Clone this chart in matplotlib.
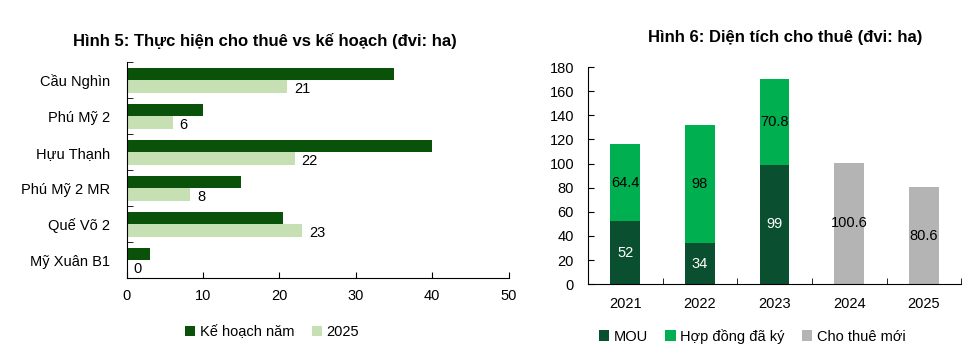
import matplotlib
matplotlib.use("Agg")
import matplotlib.pyplot as plt
import numpy as np

plt.rcParams['font.family'] = ['Liberation Sans', 'DejaVu Sans']

# Left chart data
parks = ["Cầu Nghìn", "Phú Mỹ 2", "Hựu Thạnh", "Phú Mỹ 2 MR", "Quế Võ 2", "Mỹ Xuân B1"]
plan = [35, 10, 40, 15, 20.5, 3]
actual_2025 = [21, 6, 22, 8.3, 23, 0]
actual_labels = ["21", "6", "22", "8", "23", "0"]

# Right chart data
years = ["2021", "2022", "2023", "2024", "2025"]
mou = [52, 34, 99, 0, 0]
signed = [64.4, 98, 70.8, 0, 0]
new_lease = [0, 0, 0, 100.6, 80.6]

FS = 10.5

fig = plt.figure(figsize=(9.67, 3.53), dpi=100)

# ---------- Left chart ----------
axL = fig.add_axes([0.131, 0.212, 0.395, 0.612])
n = len(parks)
y = np.arange(n)
h = 0.35
c_plan = "#0A520A"
c_act = "#C6E0B4"
axL.barh(y - h/2, plan, height=h, color=c_plan, label="Kế hoạch năm")
axL.barh(y + h/2, actual_2025, height=h, color=c_act, label="2025")
for yi, v, lab in zip(y, actual_2025, actual_labels):
    axL.text(v + 0.9, yi + h/2 + 0.08, lab, ha="left", va="center", fontsize=FS)
axL.set_ylim(n - 0.5, -0.5)
axL.set_xlim(0, 50)
axL.set_xticks(np.arange(0, 51, 10))
axL.set_yticks(y)
axL.set_yticklabels(parks, fontsize=FS)
axL.set_yticks(np.arange(-0.5, n, 1), minor=True)
axL.tick_params(axis="y", which="major", length=0, pad=12)
axL.tick_params(axis="y", which="minor", length=4, direction="in")
axL.tick_params(axis="x", length=4, direction="in", labelsize=FS, pad=8)
for s in ["top", "right"]:
    axL.spines[s].set_visible(False)
fig.text(0.274, 0.885, "Hình 5: Thực hiện cho thuê vs kế hoạch (đvi: ha)", fontsize=12,
         fontweight="bold", ha="center", va="center")
axL.legend(loc="upper center", bbox_to_anchor=(0.38, -0.155), ncol=2, frameon=False,
           fontsize=FS, handlelength=0.7, handleheight=0.7, handletextpad=0.3,
           columnspacing=1.2)

# ---------- Right chart ----------
axR = fig.add_axes([0.608, 0.195, 0.386, 0.615])
x = np.arange(len(years))
w = 0.4
c_mou = "#0B4F31"
c_signed = "#00B050"
c_new = "#B4B4B4"
axR.bar(x, mou, width=w, color=c_mou, label="MOU")
axR.bar(x, signed, width=w, bottom=mou, color=c_signed, label="Hợp đồng đã ký")
axR.bar(x, new_lease, width=w, color=c_new, label="Cho thuê mới")
for xi in x:
    if mou[xi] > 0:
        axR.text(xi, mou[xi] / 2, f"{mou[xi]:g}", ha="center", va="center",
                 color="white", fontsize=FS)
    if signed[xi] > 0:
        axR.text(xi, mou[xi] + signed[xi] / 2, f"{signed[xi]:g}", ha="center",
                 va="center", color="black", fontsize=FS)
    if new_lease[xi] > 0:
        axR.text(xi, new_lease[xi] / 2, f"{new_lease[xi]:g}", ha="center",
                 va="center", color="black", fontsize=FS)
axR.set_ylim(0, 180)
axR.set_yticks(np.arange(0, 181, 20))
axR.set_xlim(-0.5, len(years) - 0.5)
axR.set_xticks(x)
axR.set_xticklabels(years)
axR.set_xticks(np.arange(-0.5, len(years), 1), minor=True)
axR.tick_params(axis="x", which="major", length=0, labelsize=FS, pad=9)
axR.tick_params(axis="x", which="minor", length=4, direction="in")
axR.tick_params(axis="y", length=4, direction="in", labelsize=FS, pad=10)
for s in ["top", "right"]:
    axR.spines[s].set_visible(False)
fig.text(0.812, 0.893, "Hình 6: Diện tích cho thuê (đvi: ha)", fontsize=12,
         fontweight="bold", ha="center", va="center")
axR.legend(loc="upper center", bbox_to_anchor=(0.44, -0.145), ncol=3, frameon=False,
           fontsize=FS, handlelength=0.7, handleheight=0.7, handletextpad=0.3,
           columnspacing=1.2)

fig.savefig("out.png", dpi=100)
